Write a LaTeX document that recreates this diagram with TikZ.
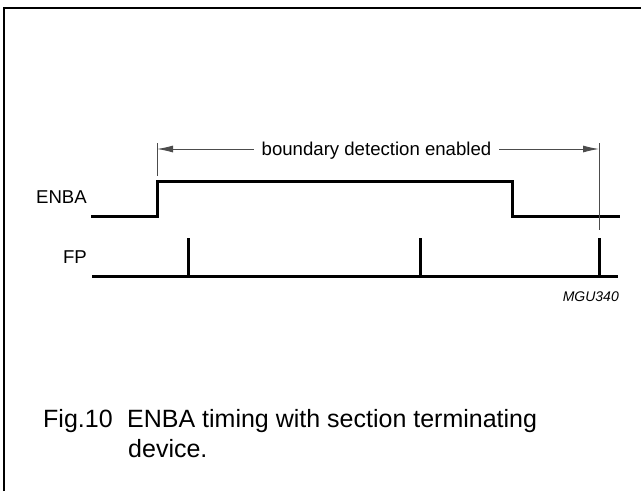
\documentclass[tikz,border=0pt]{standalone}
\usepackage{fontspec}
\setmainfont{Liberation Sans}
\usetikzlibrary{arrows.meta}
\begin{document}
\begin{tikzpicture}[x=1pt,y=-1pt,
  signal/.style={line width=3pt,line cap=rect,line join=miter},
  guide/.style={line width=0.9pt,draw=black!70},
  dimline/.style={line width=0.9pt,draw=black!70,-{Latex[length=16pt,width=7pt]}},
  lbl/.style={inner sep=0pt,font=\fontsize{18.6}{22}\selectfont},
  captext/.style={inner sep=0pt,font=\fontsize{25}{30}\selectfont,anchor=base west},
  code/.style={inner sep=0pt,font=\fontsize{14}{16}\selectfont\itshape,anchor=base east}]
\useasboundingbox (0,0) rectangle (641,491);
% frame (top and left edges)
\draw[line width=2.2pt] (4,491) -- (4,8) -- (641,8);
% coordinates
\coordinate (e0) at (92,216);
\coordinate (e1) at (157,216);
\coordinate (e2) at (157,181);
\coordinate (e3) at (512,181);
\coordinate (e4) at (512,216);
\coordinate (e5) at (618,216);
\coordinate (f0) at (92,276);
\coordinate (f5) at (618,276);
\coordinate (p1b) at (188,276);
\coordinate (p1t) at (188,238);
\coordinate (p2b) at (420,276);
\coordinate (p2t) at (420,238);
\coordinate (p3b) at (599,276);
\coordinate (p3t) at (599,238);
\coordinate (gL0) at (157,143);
\coordinate (gL1) at (157,176);
\coordinate (gR0) at (599,143);
\coordinate (gR1) at (599,230);
% signals
\draw[signal] (e0) -- (e1) -- (e2) -- (e3) -- (e4) -- (e5);
\draw[signal,line cap=butt] (f0) -- (f5);
\draw[signal,line cap=butt] (p1b) -- (p1t);
\draw[signal,line cap=butt] (p2b) -- (p2t);
\draw[signal,line cap=butt] (p3b) -- (p3t);
% guides
\draw[guide] (gL0) -- (gL1);
\draw[guide] (gR0) -- (gR1);
% labels
\node[lbl,anchor=base east] (enba) at (87,203) {ENBA};
\node[lbl,anchor=base east] (fp) at (87,263) {FP};
\node[lbl,anchor=base] (bde) at (376.5,155) {boundary detection enabled};
\coordinate (aL) at (157,149);
\coordinate (aR) at (599,149);
\draw[dimline] (bde.west |- aL) ++(-8,0) -- (aL);
\draw[dimline] (bde.east |- aR) ++(8,0) -- (aR);
\node[code] (mgu) at (619,301) {MGU340};
% caption
\node[captext] (fig) at (43,427) {Fig.10};
\node[captext] (c1) at (127,427) {ENBA timing with section terminating};
\node[captext] (c2) at (128,457) {device.};
\end{tikzpicture}
\end{document}
